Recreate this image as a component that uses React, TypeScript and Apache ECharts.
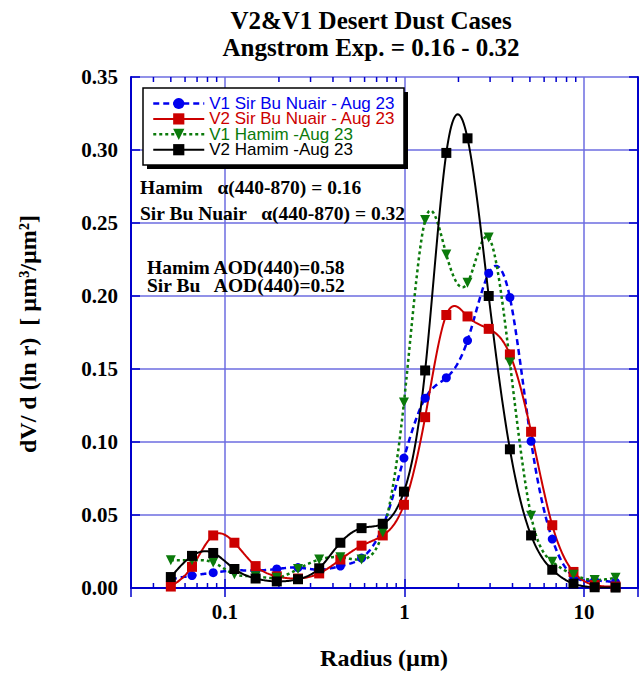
import React, { useEffect, useRef } from 'react';
import * as echarts from 'echarts';

// Radius bins (µm)
const radius = [0.05, 0.0656, 0.0861, 0.113, 0.1483, 0.1946, 0.2554, 0.3352, 0.4398, 0.5772, 0.7575, 0.994, 1.3045, 1.7118, 2.2464, 2.9479, 3.8684, 5.0763, 6.6614, 8.7416, 11.4713, 15.0];

const v1SirBuNuair = [0.006, 0.0085, 0.0105, 0.012, 0.012, 0.013, 0.014, 0.0125, 0.015, 0.0205, 0.042, 0.089, 0.13, 0.144, 0.1695, 0.2155, 0.199, 0.1005, 0.0335, 0.008, 0.005, 0.004];
const v2SirBuNuair = [0.001, 0.0145, 0.036, 0.031, 0.015, 0.008, 0.0065, 0.01, 0.0195, 0.029, 0.036, 0.057, 0.117, 0.187, 0.186, 0.1775, 0.16, 0.107, 0.043, 0.011, 0.002, 0.001];
const v1Hamim = [0.019, 0.019, 0.0175, 0.0095, 0.008, 0.007, 0.013, 0.0195, 0.021, 0.0195, 0.038, 0.127, 0.252, 0.2285, 0.209, 0.24, 0.1545, 0.0495, 0.018, 0.009, 0.0055, 0.007];
const v2Hamim = [0.0075, 0.022, 0.024, 0.013, 0.0065, 0.0045, 0.006, 0.0135, 0.031, 0.041, 0.044, 0.066, 0.149, 0.298, 0.308, 0.2, 0.095, 0.036, 0.0125, 0.003, 0.0005, 0.0003];

const seriesNames = ['V1 Sir Bu Nuair - Aug 23', 'V2 Sir Bu Nuair - Aug 23', 'V1 Hamim -Aug 23', 'V2 Hamim -Aug 23'];
const seriesColors = ['#0000ee', '#cc0000', '#0b7a0b', '#000000'];

const xTickValues = [0.1, 1, 10];
const xTickLabels = ['0.1', '1', '10'];
const xMinorTicks = [0.04, 0.05, 0.06, 0.07, 0.08, 0.09, 0.2, 0.3, 0.4, 0.5, 0.6, 0.7, 0.8, 0.9, 2, 3, 4, 5, 6, 7, 8, 9];

const titleLines = ['V2&V1 Desert Dust Cases', 'Angstrom Exp. = 0.16 - 0.32'];
const annotations = ['Hamim   \u03b1(440-870) = 0.16', 'Sir Bu Nuair   \u03b1(440-870) = 0.32', 'Hamim AOD(440)=0.58', 'Sir Bu   AOD(440)=0.52'];

const SERIF = '"Liberation Serif", "Times New Roman", serif';
const SANS = '"Liberation Sans", Arial, sans-serif';
const AXIS_BLUE = '#0000cc';
const GRID_BLUE = '#6d6de0';

// Natural cubic spline through pixel points (x increasing), sampled for drawing.
function splinePath(pts: number[][]): number[][] {
  const n = pts.length;
  const x = pts.map((p) => p[0]);
  const y = pts.map((p) => p[1]);
  const h: number[] = [];
  for (let i = 0; i < n - 1; i++) h.push(x[i + 1] - x[i]);
  const a: number[] = new Array(n).fill(0);
  const b: number[] = new Array(n).fill(1);
  const c: number[] = new Array(n).fill(0);
  const d: number[] = new Array(n).fill(0);
  for (let i = 1; i < n - 1; i++) {
    a[i] = h[i - 1];
    b[i] = 2 * (h[i - 1] + h[i]);
    c[i] = h[i];
    d[i] = 6 * ((y[i + 1] - y[i]) / h[i] - (y[i] - y[i - 1]) / h[i - 1]);
  }
  // Thomas algorithm
  const cp = new Array(n).fill(0);
  const dp = new Array(n).fill(0);
  cp[0] = c[0] / b[0];
  dp[0] = d[0] / b[0];
  for (let i = 1; i < n; i++) {
    const m = b[i] - a[i] * cp[i - 1];
    cp[i] = c[i] / m;
    dp[i] = (d[i] - a[i] * dp[i - 1]) / m;
  }
  const M = new Array(n).fill(0);
  M[n - 1] = dp[n - 1];
  for (let i = n - 2; i >= 0; i--) M[i] = dp[i] - cp[i] * M[i + 1];
  const out: number[][] = [];
  for (let i = 0; i < n - 1; i++) {
    const steps = Math.max(4, Math.ceil(h[i]));
    for (let s = 0; s < steps; s++) {
      const t = (s / steps) * h[i];
      const A = (h[i] - t) / h[i];
      const B = t / h[i];
      const yy = A * y[i] + B * y[i + 1] + ((A * A * A - A) * M[i] + (B * B * B - B) * M[i + 1]) * (h[i] * h[i]) / 6;
      out.push([x[i] + t, yy]);
    }
  }
  out.push([x[n - 1], y[n - 1]]);
  return out;
}

export default function App() {
  const ref = useRef<HTMLDivElement>(null);
  useEffect(() => {
    const chart = echarts.init(ref.current!, null, { renderer: 'svg' });
    const toPairs = (ys: number[]) => radius.map((r, i) => [r, ys[i]]);

    const curveSeries = (idx: number, ys: number[], dash: number[] | null, width: number) => ({
      type: 'custom',
      silent: true,
      z: 3 + idx,
      clip: false,
      data: [[radius[0], ys[0]]],
      renderItem: (params: any, api: any) => {
        const pts = radius.map((r, i) => api.coord([r, ys[i]]));
        return {
          type: 'polyline',
          shape: { points: splinePath(pts) },
          style: { stroke: seriesColors[idx], lineWidth: width, fill: null, lineDash: dash },
        };
      },
    });

    const markerSeries = (idx: number, ys: number[], symbol: string, size: number, rotate = 0) => ({
      name: seriesNames[idx],
      type: 'line',
      data: toPairs(ys),
      symbol,
      symbolSize: size,
      symbolRotate: rotate,
      showAllSymbol: true,
      clip: false,
      z: 8 + idx,
      itemStyle: { color: seriesColors[idx] },
      lineStyle: { color: seriesColors[idx], width: 0, opacity: 0 },
    });

    const legendLine = [
      { width: 2.5, type: [6, 4] },
      { width: 2, type: 'solid' },
      { width: 2.5, type: [3, 3] },
      { width: 2, type: 'solid' },
    ];

    const option: any = {
      animation: false,
      backgroundColor: '#ffffff',
      grid: { left: 131, top: 77, width: 512, height: 511 },
      xAxis: [
        {
          type: 'log', logBase: 10, min: 0.03, max: 20, position: 'bottom',
          axisLine: { show: true, lineStyle: { color: AXIS_BLUE, width: 2 } },
          axisTick: { show: true, inside: true, length: 9, lineStyle: { color: AXIS_BLUE, width: 1.5 } },
          splitLine: { show: true, lineStyle: { color: GRID_BLUE, width: 1.5 } },
          axisLabel: {
            margin: 13,
            fontFamily: SERIF, fontWeight: 'bold', fontSize: 21, color: '#000',
            formatter: (v: number) => {
              const i = xTickValues.findIndex((t) => Math.abs(Math.log10(v) - Math.log10(t)) < 1e-6);
              return i >= 0 ? xTickLabels[i] : '';
            },
          },
        },
        {
          type: 'log', logBase: 10, min: 0.03, max: 20, position: 'top',
          axisLine: { show: true, lineStyle: { color: AXIS_BLUE, width: 2 } },
          axisTick: { show: true, inside: true, length: 9, lineStyle: { color: AXIS_BLUE, width: 1.5 } },
          splitLine: { show: false },
          axisLabel: { show: false },
        },
      ],
      yAxis: [
        {
          type: 'value', min: 0, max: 0.35, interval: 0.05, position: 'left',
          axisLine: { show: true, lineStyle: { color: AXIS_BLUE, width: 2 } },
          axisTick: { show: true, inside: true, length: 9, lineStyle: { color: AXIS_BLUE, width: 1.5 } },
          splitLine: { show: true, lineStyle: { color: GRID_BLUE, width: 1.5 } },
          axisLabel: {
            margin: 13, fontFamily: SERIF, fontWeight: 'bold', fontSize: 21, color: '#000',
            formatter: (v: number) => v.toFixed(2),
          },
        },
        {
          type: 'value', min: 0, max: 0.35, interval: 0.05, position: 'right',
          axisLine: { show: true, lineStyle: { color: AXIS_BLUE, width: 2 } },
          axisTick: { show: true, inside: true, length: 9, lineStyle: { color: AXIS_BLUE, width: 1.5 } },
          splitLine: { show: false },
          axisLabel: { show: false },
        },
      ],
      legend: {
        data: seriesNames.map((n, i) => ({
          name: n,
          textStyle: { color: seriesColors[i] },
          lineStyle: { color: seriesColors[i], width: legendLine[i].width, type: legendLine[i].type, opacity: 1 },
        })),
        orient: 'vertical',
        left: 152,
        top: 95,
        padding: 0,
        itemWidth: 51,
        itemHeight: 14,
        itemGap: -1.6,
        z: 20,
        textStyle: { fontFamily: SANS, fontSize: 17 },
      },
      graphic: [
        { type: 'rect', z: 10, shape: { x: 147, y: 92, width: 261, height: 77 }, style: { fill: '#000' } },
        { type: 'rect', z: 11, shape: { x: 143, y: 88, width: 261, height: 77 }, style: { fill: '#fff', stroke: '#000', lineWidth: 1.5 } },
        { type: 'text', z: 12, x: 371, y: 20, style: { text: titleLines[0], textAlign: 'center', textVerticalAlign: 'middle', font: `bold 25px ${SERIF}`, fill: '#000' } },
        { type: 'text', z: 12, x: 371, y: 47, style: { text: titleLines[1], textAlign: 'center', textVerticalAlign: 'middle', font: `bold 25px ${SERIF}`, fill: '#000' } },
        { type: 'text', z: 12, x: 140, y: 187, style: { text: annotations[0], textAlign: 'left', textVerticalAlign: 'middle', font: `bold 19.5px ${SERIF}`, fill: '#000' } },
        { type: 'text', z: 12, x: 140, y: 213, style: { text: annotations[1], textAlign: 'left', textVerticalAlign: 'middle', font: `bold 19.5px ${SERIF}`, fill: '#000' } },
        { type: 'text', z: 12, x: 147, y: 267, style: { text: annotations[2], textAlign: 'left', textVerticalAlign: 'middle', font: `bold 19.5px ${SERIF}`, fill: '#000' } },
        { type: 'text', z: 12, x: 147, y: 285, style: { text: annotations[3], textAlign: 'left', textVerticalAlign: 'middle', font: `bold 19.5px ${SERIF}`, fill: '#000' } },
        { type: 'text', z: 12, x: 384, y: 658, style: { text: 'Radius (\u00b5m)', textAlign: 'center', textVerticalAlign: 'middle', font: `bold 24px ${SERIF}`, fill: '#000' } },
        { type: 'text', z: 12, x: 28, y: 334, rotation: Math.PI / 2, style: { text: 'dV/ d (ln r)  [ \u00b5m\u00b3/\u00b5m\u00b2]', textAlign: 'center', textVerticalAlign: 'middle', font: `bold 24px ${SERIF}`, fill: '#000' } },
      ],
      series: [
        {
          type: 'custom',
          silent: true,
          z: 2,
          clip: false,
          data: xMinorTicks.map((v) => [v, 0]),
          renderItem: (params: any, api: any) => {
            const p0 = api.coord([api.value(0), 0]);
            const p1 = api.coord([api.value(0), 0.35]);
            return {
              type: 'group',
              children: [
                { type: 'line', shape: { x1: p0[0], y1: p0[1], x2: p0[0], y2: p0[1] - 5 }, style: { stroke: AXIS_BLUE, lineWidth: 1.5 } },
                { type: 'line', shape: { x1: p1[0], y1: p1[1], x2: p1[0], y2: p1[1] + 5 }, style: { stroke: AXIS_BLUE, lineWidth: 1.5 } },
              ],
            };
          },
        },
        curveSeries(0, v1SirBuNuair, [6, 4], 2.5),
        curveSeries(1, v2SirBuNuair, null, 2),
        curveSeries(2, v1Hamim, [3, 3], 2.5),
        curveSeries(3, v2Hamim, null, 2),
        markerSeries(0, v1SirBuNuair, 'circle', 9),
        markerSeries(1, v2SirBuNuair, 'rect', 10),
        markerSeries(2, v1Hamim, 'triangle', 10, 180),
        markerSeries(3, v2Hamim, 'rect', 10),
      ],
    };
    chart.setOption(option);
    return () => chart.dispose();
  }, []);
  return <div ref={ref} style={{ position: 'absolute', left: 0, top: 0, width: 641, height: 675 }} />;
}
